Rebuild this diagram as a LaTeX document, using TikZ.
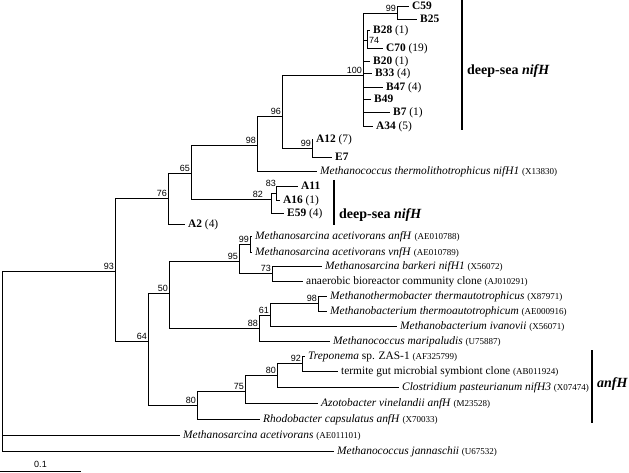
\documentclass[tikz,border=0pt]{standalone}
\usepackage{fontspec}
\setmainfont{Liberation Serif}
\newfontfamily\bsfont{Liberation Sans}
\newcommand\acc[1]{{\fontsize{9}{10}\selectfont #1}}
\begin{document}
\begin{tikzpicture}[x=1pt,y=-1pt,
    branch/.style={line width=0.8pt},
    leaf/.style={anchor=west,inner xsep=3pt,inner ysep=0pt,text height=7.5pt,text depth=0pt,font=\fontsize{11.4}{12}\selectfont},
    bs/.style={anchor=south east,inner sep=1pt,font=\bsfont\fontsize{9}{10}\selectfont},
    clade/.style={anchor=west,inner xsep=3pt,font=\bfseries\fontsize{14}{16}\selectfont},
    bracket/.style={line width=1.1pt}]
\useasboundingbox (0,0) rectangle (629,473);
% inner nodes of the tree
\coordinate (r) at (2,361);
\coordinate (n93) at (115,271);
\coordinate (n76) at (168,198);
\coordinate (n65) at (191,173);
\coordinate (n98) at (257,145);
\coordinate (n96) at (282,116);
\coordinate (n100) at (363,75);
\coordinate (nC) at (397,13);
\coordinate (n74) at (367,40);
\coordinate (nA) at (312,148);
\coordinate (n82) at (271,199);
\coordinate (n83) at (276,193);
\coordinate (n64) at (148,341);
\coordinate (n50) at (169,293);
\coordinate (n95) at (239,261);
\coordinate (nM) at (250,244);
\coordinate (n73) at (272,273);
\coordinate (n88) at (259,328);
\coordinate (n61) at (270,315);
\coordinate (nT) at (318,303);
\coordinate (n80) at (197,405);
\coordinate (n75) at (245,391);
\coordinate (n80b) at (277,375);
\coordinate (n92) at (302,363);
% leaves
\node[leaf] (c59) at (409,6) {\textbf{C59}};
\node[leaf] (b25) at (417,19) {\textbf{B25}};
\node[leaf] (b28) at (370,30) {\textbf{B28} (1)};
\node[leaf] (c70) at (383,48) {\textbf{C70} (19)};
\node[leaf] (b20) at (370,61) {\textbf{B20} (1)};
\node[leaf] (b33) at (372,73) {\textbf{B33} (4)};
\node[leaf] (b47) at (383,87) {\textbf{B47} (4)};
\node[leaf] (b49) at (371,99) {\textbf{B49}};
\node[leaf] (b7) at (390,112) {\textbf{B7} (1)};
\node[leaf] (a34) at (373,126) {\textbf{A34} (5)};
\node[leaf] (a12) at (313,139) {\textbf{A12} (7)};
\node[leaf] (e7) at (332,157) {\textbf{E7}};
\node[leaf] (mthl) at (317,171) {\textit{Methanococcus thermolithotrophicus nifH1} \acc{(X13830)}};
\node[leaf] (a11) at (298,186) {\textbf{A11}};
\node[leaf] (a16) at (280,200) {\textbf{A16} (1)};
\node[leaf] (e59) at (284,213) {\textbf{E59} (4)};
\node[leaf] (a2) at (185,224) {\textbf{A2} (4)};
\node[leaf] (manf) at (252,236) {\textit{Methanosarcina acetivorans anfH} \acc{(AE010788)}};
\node[leaf] (mvnf) at (252,252) {\textit{Methanosarcina acetivorans vnfH} \acc{(AE010789)}};
\node[leaf] (mbark) at (322,266) {\textit{Methanosarcina barkeri nifH1} \acc{(X56072)}};
\node[leaf] (anaer) at (303,281) {anaerobic bioreactor community clone \acc{(AJ010291)}};
\node[leaf] (mtherm) at (327,296) {\textit{Methanothermobacter thermautotrophicus} \acc{(X87971)}};
\node[leaf] (mthauto) at (327,311) {\textit{Methanobacterium thermoautotrophicum} \acc{(AE000916)}};
\node[leaf] (mivan) at (397,326) {\textit{Methanobacterium ivanovii} \acc{(X56071)}};
\node[leaf] (mmari) at (330,341) {\textit{Methanococcus maripaludis} \acc{(U75887)}};
\node[leaf] (trep) at (305,356) {\textit{Treponema} sp. ZAS-1 \acc{(AF325799)}};
\node[leaf] (termite) at (338,371) {termite gut microbial symbiont clone \acc{(AB011924)}};
\node[leaf] (clos) at (399,387) {\textit{Clostridium pasteurianum nifH3} \acc{(X07474)}};
\node[leaf] (azot) at (318,403) {\textit{Azotobacter vinelandii anfH} \acc{(M23528)}};
\node[leaf] (rhodo) at (260,419) {\textit{Rhodobacter capsulatus anfH} \acc{(X70033)}};
\node[leaf] (macet) at (180,435) {\textit{Methanosarcina acetivorans} \acc{(AE011101)}};
\node[leaf] (mjann) at (334,451) {\textit{Methanococcus jannaschii} \acc{(U67532)}};
% branches
\draw[branch] (r) |- (n93) (r) |- (macet.west) (r) |- (mjann.west);
\draw[branch] (n93) |- (n76) (n93) |- (n64);
\draw[branch] (n76) |- (n65) (n76) |- (a2.west);
\draw[branch] (n65) |- (n98) (n65) |- (n82);
\draw[branch] (n98) |- (n96) (n98) |- (mthl.west);
\draw[branch] (n96) |- (n100) (n96) |- (nA);
\draw[branch] (n100) |- (nC) (n100) |- (n74) (n100) |- (b20.west) (n100) |- (b33.west)
  (n100) |- (b47.west) (n100) |- (b49.west) (n100) |- (b7.west) (n100) |- (a34.west);
\draw[branch] (nC) |- (c59.west) (nC) |- (b25.west);
\draw[branch] (n74) |- (b28.west) (n74) |- (c70.west);
\draw[branch] (nA) |- (a12.west) (nA) |- (e7.west);
\draw[branch] (n82) |- (n83) (n82) |- (e59.west);
\draw[branch] (n83) |- (a11.west) (n83) |- (a16.west);
\draw[branch] (n64) |- (n50) (n64) |- (n80);
\draw[branch] (n50) |- (n95) (n50) |- (n88);
\draw[branch] (n95) |- (nM) (n95) |- (n73);
\draw[branch] (nM) |- (manf.west) (nM) |- (mvnf.west);
\draw[branch] (n73) |- (mbark.west) (n73) |- (anaer.west);
\draw[branch] (n88) |- (n61) (n88) |- (mmari.west);
\draw[branch] (n61) |- (nT) (n61) |- (mivan.west);
\draw[branch] (nT) |- (mtherm.west) (nT) |- (mthauto.west);
\draw[branch] (n80) |- (n75) (n80) |- (rhodo.west);
\draw[branch] (n75) |- (n80b) (n75) |- (azot.west);
\draw[branch] (n80b) |- (n92) (n80b) |- (clos.west);
\draw[branch] (n92) |- (trep.west) (n92) |- (termite.west);
% bootstrap values
\node[bs] (b93) at (n93) {93};
\node[bs] (b76) at (n76) {76};
\node[bs] (b65) at (n65) {65};
\node[bs] (b98) at (n98) {98};
\node[bs] (b96) at (n96) {96};
\node[bs] (b100) at (n100) {100};
\node[bs] (bC) at (nC) {99};
\node[bs,anchor=west] (b74) at (368,40.5) {74};
\node[bs] (bA) at (nA) {99};
\node[bs] (b82) at (264,199) {82};
\node[bs] (b83) at (277,188) {83};
\node[bs] (b64) at (n64) {64};
\node[bs] (b50) at (n50) {50};
\node[bs] (b95) at (n95) {95};
\node[bs] (bM) at (nM) {99};
\node[bs] (b73) at (n73) {73};
\node[bs] (b88) at (n88) {88};
\node[bs] (b61) at (n61) {61};
\node[bs] (bT) at (nT) {98};
\node[bs] (b80) at (n80) {80};
\node[bs] (b75) at (n75) {75};
\node[bs] (b80b) at (n80b) {80};
\node[bs] (b92) at (n92) {92};
% clade brackets
\draw[bracket] (462,0) -- (462,130);
\node[clade] (deep1) at (464,71) {deep-sea \textit{nifH}};
\draw[bracket] (334,180) -- (334,225);
\node[clade] (deep2) at (336,215) {deep-sea \textit{nifH}};
\draw[bracket] (592,350) -- (592,423);
\node[clade] (anf) at (594,384) {\textit{anfH}};
% scale bar
\coordinate (s0) at (0,471.5);
\coordinate (s1) at (81,471.5);
\draw[branch] (s0) -- (s1);
\node[bs,anchor=south] (sl) at (40.5,469) {0.1};
\end{tikzpicture}
\end{document}
